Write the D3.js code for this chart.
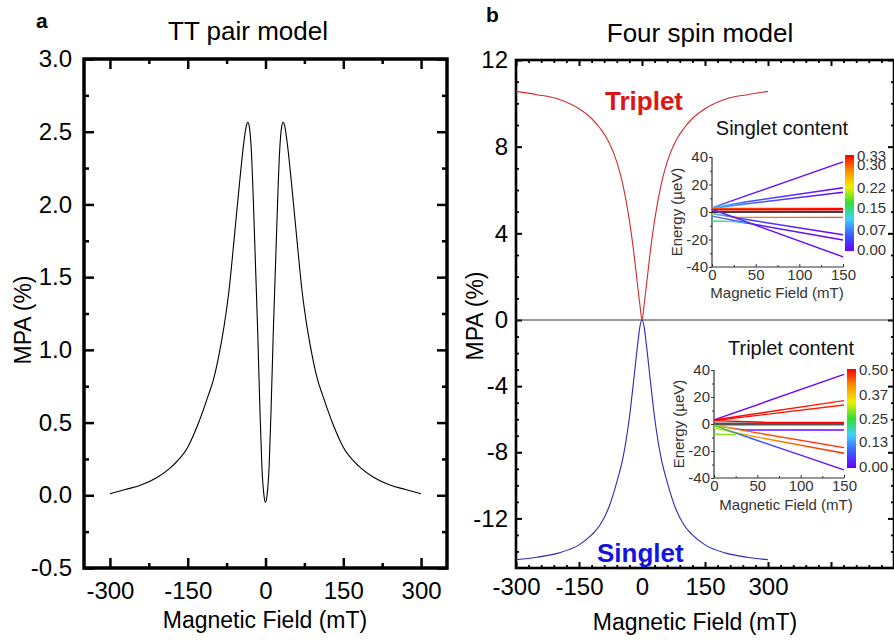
<!DOCTYPE html>
<html><head><meta charset="utf-8">
<script src="https://cdn.jsdelivr.net/npm/d3@7"></script>
<style>
body{margin:0;background:#fff;}
svg{display:block;font-family:"Liberation Sans",Arial,sans-serif;}
</style></head>
<body><svg id="c" width="894" height="641"></svg>
<script>
// ---------- DATA ----------
// Panel a: TT pair model
const fieldA = [-300,-270,-240,-210,-180,-150,-130,-110,-100,-90,-80,-70,-60,-50,-42,-37,-34,-31,-27,-23,-19,-15,-11,-7,-3,0,
                3,7,11,15,19,23,27,31,34,37,42,50,60,70,80,90,100,110,130,150,180,210,240,270,300];
const mpaA = [0.01,0.04,0.07,0.12,0.2,0.33,0.49,0.69,0.80,0.96,1.16,1.42,1.78,2.15,2.42,2.54,2.565,2.53,2.35,1.98,1.55,1.12,0.62,0.2,0.0,-0.05,
              0.0,0.2,0.62,1.12,1.55,1.98,2.35,2.53,2.565,2.54,2.42,2.15,1.78,1.42,1.16,0.96,0.80,0.69,0.49,0.33,0.2,0.12,0.07,0.04,0.01];
const xTicksA = [-300,-150,0,150,300];
const xMinorA = [-225,-75,75,225];
const yTicksA = [-0.5,0,0.5,1.0,1.5,2.0,2.5,3.0];
const yMinorA = [-0.25,0.25,0.75,1.25,1.75,2.25,2.75];

// Panel b: Four spin model
const fieldB = [-300,-250,-200,-150,-120,-100,-80,-60,-45,-30,-20,-10,-5,0,5,10,20,30,45,60,80,100,120,150,200,250,300];
const tripletB = [10.55,10.4,10.2,9.75,9.3,8.85,8.25,7.3,6.2,4.6,3.2,1.5,0.7,0,0.7,1.5,3.2,4.6,6.2,7.3,8.25,8.85,9.3,9.75,10.2,10.4,10.55];
const singletB = [-14.5,-14.35,-14.1,-13.6,-13.0,-12.4,-11.4,-9.8,-8.3,-5.9,-3.7,-1.4,-0.4,0,-0.4,-1.4,-3.7,-5.9,-8.3,-9.8,-11.4,-12.4,-13.0,-13.6,-14.1,-14.35,-14.5];
const xTicksB = [-300,-150,0,150,300,450,600];
const xLabelsB = [-300,-150,0,150,300];
const yTicksBtop = [0,4,8,12];
const yTicksBbot = [-4,-8,-12];

// Insets: energy levels [field (mT), energy (µeV), content]
const singletLevels = [
  [[0,3,0.08],[20,7.5,0.02],[150,36.5,0.0]],
  [[0,3,0.10],[40,7.5,0.05],[150,17.6,0.0]],
  [[0,2.5,0.12],[40,6,0.06],[150,14.4,0.0]],
  [[0,2.6,0.30],[150,2.6,0.33]],
  [[0,1.6,0.33],[150,1.6,0.33]],
  [[0,-1.5,0.22],[30,-3.9,0.28],[150,-3.9,0.30]],
  [[0,-1,0.10],[40,-5.5,0.04],[150,-16.5,0.0]],
  [[0,-3,0.07],[40,-8,0.02],[150,-20.4,0.0]],
  [[0,2,0.02],[150,-32.6,0.0]],
  [[0,-6.5,0.15],[25,-7,0.12],[40,-8,0.07]]
];
const tripletLevels = [
  [[0,3,0.0],[150,36.8,0.0]],
  [[0,3,0.5],[150,17.3,0.48]],
  [[0,2.5,0.5],[150,14.1,0.48]],
  [[0,2.5,0.5],[60,1.2,0.5],[150,1.2,0.5]],
  [[0,-1,0.37],[35,-4.4,0.03],[150,-4.4,0.0]],
  [[0,-1,0.37],[40,-5.5,0.45],[150,-17.5,0.48]],
  [[0,-3,0.30],[40,-8.5,0.40],[150,-21.7,0.48]],
  [[0,-1,0.25],[40,-10,0.08],[150,-34,0.0]],
  [[0,-7.5,0.27],[25,-8,0.30]]
];
const insetYTicks = [-40,-20,0,20,40];
const insetXTicks = [0,50,100,150];
const cbTicks1 = [0.00,0.07,0.15,0.22,0.30,0.33];
const cbTicks2 = [0.00,0.13,0.25,0.37,0.50];
const rainbow = ["#6a00ff","#3a5cff","#40d0ff","#30e030","#f0f000","#ff9000","#ff0000"];

// ---------- DRAW ----------
const svg = d3.select("#c");
const FONT = '"Liberation Sans",Arial,sans-serif';

function styleAxis(g, size, color){
  g.select(".domain").remove();
  g.selectAll("text").attr("font-size", size).attr("font-family", FONT).attr("fill", color||"#000");
}

// ===== Panel a =====
const xA = d3.scaleLinear([-350,350],[84,447]);
const yA = d3.scaleLinear([-0.5,3],[568,59]);
const gA = svg.append("g");
const tkW = 2.5;
function ticksA(){
  const mk = (axis, tr) => { const g = gA.append("g").attr("transform", tr).call(axis); g.select(".domain").remove(); g.selectAll("line").attr("stroke","#000").attr("stroke-width",tkW); return g; };
  const b = mk(d3.axisBottom(xA).tickValues(xTicksA).tickSize(-10).tickPadding(14).tickFormat(d=>String(d)), "translate(0,568)");
  styleAxis(b, 24);
  mk(d3.axisBottom(xA).tickValues(xMinorA).tickSize(-5).tickFormat(""), "translate(0,568)");
  mk(d3.axisTop(xA).tickValues(xTicksA).tickSize(-10).tickFormat(""), "translate(0,59)");
  mk(d3.axisTop(xA).tickValues(xMinorA).tickSize(-5).tickFormat(""), "translate(0,59)");
  const l = mk(d3.axisLeft(yA).tickValues(yTicksA).tickSize(-10).tickPadding(12).tickFormat(d=>d.toFixed(1)), "translate(84,0)");
  styleAxis(l, 24);
  mk(d3.axisLeft(yA).tickValues(yMinorA).tickSize(-5).tickFormat(""), "translate(84,0)");
  mk(d3.axisRight(yA).tickValues(yTicksA).tickSize(-10).tickFormat(""), "translate(447,0)");
  mk(d3.axisRight(yA).tickValues(yMinorA).tickSize(-5).tickFormat(""), "translate(447,0)");
}
ticksA();
gA.append("rect").attr("x",84).attr("y",59).attr("width",447-84).attr("height",568-59)
  .attr("fill","none").attr("stroke","#000").attr("stroke-width",3.5);
gA.append("path").datum(fieldA.map((f,i)=>[f,mpaA[i]]))
  .attr("fill","none").attr("stroke","#000").attr("stroke-width",1.1)
  .attr("d", d3.line().x(d=>xA(d[0])).y(d=>yA(d[1])).curve(d3.curveMonotoneX));
gA.append("text").attr("x",36).attr("y",28).attr("font-size",21).attr("font-weight","bold").text("a");
gA.append("text").attr("x",248).attr("y",40).attr("text-anchor","middle").attr("font-size",26).text("TT pair model");
gA.append("text").attr("x",265).attr("y",628).attr("text-anchor","middle").attr("font-size",23).text("Magnetic Field (mT)");
gA.append("text").attr("transform","translate(31,320) rotate(-90)").attr("text-anchor","middle").attr("font-size",23).text("MPA (%)");

// ===== Panel b =====
const xB = d3.scaleLinear([-300,600],[516,894]);
const yBt = d3.scaleLinear([0,12],[320,60]);
const yBb = d3.scaleLinear([-15,0],[568,320]);
const yB = v => v >= 0 ? yBt(v) : yBb(v);
const gB = svg.append("g");
function ticksB(){
  const mk = (axis, tr, w) => { const g = gB.append("g").attr("transform", tr).call(axis); g.select(".domain").remove(); g.selectAll("line").attr("stroke","#000").attr("stroke-width",w||2); return g; };
  const xMinor = d3.range(-300,601,30).filter(v=>v%150!==0);
  const b = mk(d3.axisBottom(xB).tickValues(xTicksB).tickSize(-6).tickPadding(10).tickFormat(d=>xLabelsB.includes(d)?String(d):""), "translate(0,568)");
  styleAxis(b, 24);
  mk(d3.axisBottom(xB).tickValues(xMinor).tickSize(-3).tickFormat(""), "translate(0,568)", 1.8);
  mk(d3.axisTop(xB).tickValues(xTicksB).tickSize(-6).tickFormat(""), "translate(0,60)");
  mk(d3.axisTop(xB).tickValues(xMinor).tickSize(-3).tickFormat(""), "translate(0,60)", 1.8);
  const lt = mk(d3.axisLeft(yBt).tickValues(yTicksBtop).tickSize(-6).tickPadding(8).tickFormat(d=>String(d)), "translate(516,0)");
  styleAxis(lt, 24);
  const lb = mk(d3.axisLeft(yBb).tickValues(yTicksBbot).tickSize(-6).tickPadding(8).tickFormat(d=>String(d)), "translate(516,0)");
  styleAxis(lb, 24);
  const minT = d3.range(1,12).filter(v=>v%4!==0), minB = d3.range(-14,0).filter(v=>v%4!==0);
  mk(d3.axisLeft(yBt).tickValues(minT).tickSize(-3).tickFormat(""), "translate(516,0)", 1.8);
  mk(d3.axisLeft(yBb).tickValues(minB).tickSize(-3).tickFormat(""), "translate(516,0)", 1.8);
  mk(d3.axisRight(yBt).tickValues(yTicksBtop).tickSize(-6).tickFormat(""), "translate(894,0)");
  mk(d3.axisRight(yBb).tickValues(yTicksBbot).tickSize(-6).tickFormat(""), "translate(894,0)");
  mk(d3.axisRight(yBt).tickValues(minT).tickSize(-3).tickFormat(""), "translate(894,0)", 1.8);
  mk(d3.axisRight(yBb).tickValues(minB).tickSize(-3).tickFormat(""), "translate(894,0)", 1.8);
}
ticksB();
gB.append("line").attr("x1",516).attr("x2",894).attr("y1",yB(0)).attr("y2",yB(0)).attr("stroke","#333").attr("stroke-width",1.2);
gB.append("rect").attr("x",516).attr("y",60).attr("width",894-516).attr("height",568-60)
  .attr("fill","none").attr("stroke","#000").attr("stroke-width",2.6);
const lineB = () => d3.line().x((d,i)=>xB(fieldB[i])).y(d=>yB(d)).curve(d3.curveMonotoneX);
gB.append("path").datum(tripletB).attr("fill","none").attr("stroke","#d42a2a").attr("stroke-width",1.1).attr("d", lineB());
gB.append("path").datum(singletB).attr("fill","none").attr("stroke","#2a2ab8").attr("stroke-width",1.1).attr("d", lineB());
gB.append("text").attr("x",605).attr("y",110).attr("font-size",26).attr("font-weight","bold").attr("fill","#e01414").text("Triplet");
gB.append("text").attr("x",597).attr("y",562).attr("font-size",26).attr("font-weight","bold").attr("fill","#1414e0").text("Singlet");
gB.append("text").attr("x",486).attr("y",22).attr("font-size",21).attr("font-weight","bold").text("b");
gB.append("text").attr("x",700).attr("y",42).attr("text-anchor","middle").attr("font-size",26).text("Four spin model");
gB.append("text").attr("x",695).attr("y",630).attr("text-anchor","middle").attr("font-size",23).text("Magnetic Field (mT)");
gB.append("text").attr("transform","translate(483,316) rotate(-90)").attr("text-anchor","middle").attr("font-size",23).text("MPA (%)");

// ===== Insets =====
const defs = svg.append("defs");
let gradN = 0;
function drawInset(cfg){
  const g = svg.append("g");
  const x = d3.scaleLinear([0,150],[cfg.x0,cfg.x1]);
  const y = d3.scaleLinear([-40,40],[cfg.yb,cfg.yt]);
  const cs = d3.scaleLinear(d3.range(rainbow.length).map(i=>i/(rainbow.length-1)*cfg.cmax), rainbow).clamp(true);
  // axes
  const ax = g.append("g").attr("transform",`translate(${cfg.x0},0)`).call(d3.axisLeft(y).tickValues(insetYTicks).tickSize(3).tickPadding(1).tickFormat(d=>String(d)));
  ax.select(".domain").remove(); ax.selectAll("line").attr("stroke","#333");
  ax.selectAll("text").attr("font-size",15).attr("fill","#333").attr("font-family",FONT);
  const axm = g.append("g").attr("transform",`translate(${cfg.x0},0)`).call(d3.axisLeft(y).tickValues([-30,-10,10,30]).tickSize(2).tickFormat(""));
  axm.select(".domain").remove(); axm.selectAll("line").attr("stroke","#333");
  const bx = g.append("g").attr("transform",`translate(0,${cfg.yb})`).call(d3.axisBottom(x).tickValues(insetXTicks).tickSize(-3).tickPadding(2).tickFormat(d=>String(d)));
  bx.select(".domain").remove(); bx.selectAll("line").attr("stroke","#333");
  bx.selectAll("text").attr("font-size",15).attr("fill","#333").attr("font-family",FONT);
  const bxm = g.append("g").attr("transform",`translate(0,${cfg.yb})`).call(d3.axisBottom(x).tickValues([25,75,125]).tickSize(-2).tickFormat(""));
  bxm.select(".domain").remove(); bxm.selectAll("line").attr("stroke","#333");
  g.append("line").attr("x1",cfg.x0).attr("x2",cfg.x0).attr("y1",cfg.yt).attr("y2",cfg.yb).attr("stroke","#333").attr("stroke-width",1.2);
  g.append("line").attr("x1",cfg.x0).attr("x2",cfg.x1).attr("y1",cfg.yb).attr("y2",cfg.yb).attr("stroke","#333").attr("stroke-width",1.2);
  // zero level
  g.append("line").attr("x1",x(0)).attr("x2",x(150)).attr("y1",y(0)).attr("y2",y(0)).attr("stroke",cfg.zeroColor).attr("stroke-width",cfg.zeroW);
  // levels
  cfg.levels.forEach(lv=>{
    for(let i=0;i<lv.length-1;i++){
      const a=lv[i], b=lv[i+1];
      const id = "gr"+cfg.id+"_"+(gradN++);
      const gr = defs.append("linearGradient").attr("id",id).attr("gradientUnits","userSpaceOnUse")
        .attr("x1",x(a[0])).attr("y1",y(a[1])).attr("x2",x(b[0])).attr("y2",y(b[1]));
      gr.append("stop").attr("offset",0).attr("stop-color",cs(a[2]));
      gr.append("stop").attr("offset",1).attr("stop-color",cs(b[2]));
      g.append("line").attr("x1",x(a[0])).attr("y1",y(a[1])).attr("x2",x(b[0])).attr("y2",y(b[1]))
        .attr("stroke",`url(#${id})`).attr("stroke-width",1.4);
    }
  });
  // colorbar
  const cb = d3.scaleLinear([0,cfg.cmax],[cfg.cbb,cfg.cbt]);
  const gid = "cb"+cfg.id;
  const lg = defs.append("linearGradient").attr("id",gid).attr("x1",0).attr("y1",1).attr("x2",0).attr("y2",0);
  rainbow.forEach((c,i)=>lg.append("stop").attr("offset",i/(rainbow.length-1)).attr("stop-color",c));
  g.append("rect").attr("x",cfg.cbx).attr("y",cfg.cbt-1).attr("width",9).attr("height",cfg.cbb-cfg.cbt+2).attr("fill",`url(#${gid})`);
  g.selectAll(".cbl").data(cfg.cbTicks).join("text").attr("x",cfg.cbx+12).attr("y",d=>cb(d)).attr("dy","0.35em")
    .attr("font-size",15).attr("fill","#333").text(d=>d.toFixed(2));
  // labels
  g.append("text").attr("x",cfg.tx).attr("y",cfg.ty).attr("text-anchor","middle").attr("font-size",20).attr("fill","#111").text(cfg.title);
  g.append("text").attr("x",cfg.xlx).attr("y",cfg.xly).attr("text-anchor","middle").attr("font-size",15).attr("fill","#333").text("Magnetic Field (mT)");
  g.append("text").attr("transform",`translate(${cfg.ylx},${(cfg.yt+cfg.yb)/2}) rotate(-90)`).attr("text-anchor","middle").attr("font-size",15).attr("fill","#333").text("Energy (µeV)");
}
drawInset({id:1,x0:712,x1:843,yt:157,yb:267,levels:singletLevels,cmax:0.33,zeroColor:"#000",zeroW:1.3,
  cbx:845,cbt:156,cbb:250,cbTicks:cbTicks1,title:"Singlet content",tx:782,ty:135,xlx:777,xly:298,ylx:682});
drawInset({id:2,x0:714,x1:844,yt:370,yb:478,levels:tripletLevels,cmax:0.5,zeroColor:"#555",zeroW:3,
  cbx:847,cbt:370,cbb:467,cbTicks:cbTicks2,title:"Triplet content",tx:791,ty:355,xlx:786,xly:510,ylx:684});
</script></body></html>
